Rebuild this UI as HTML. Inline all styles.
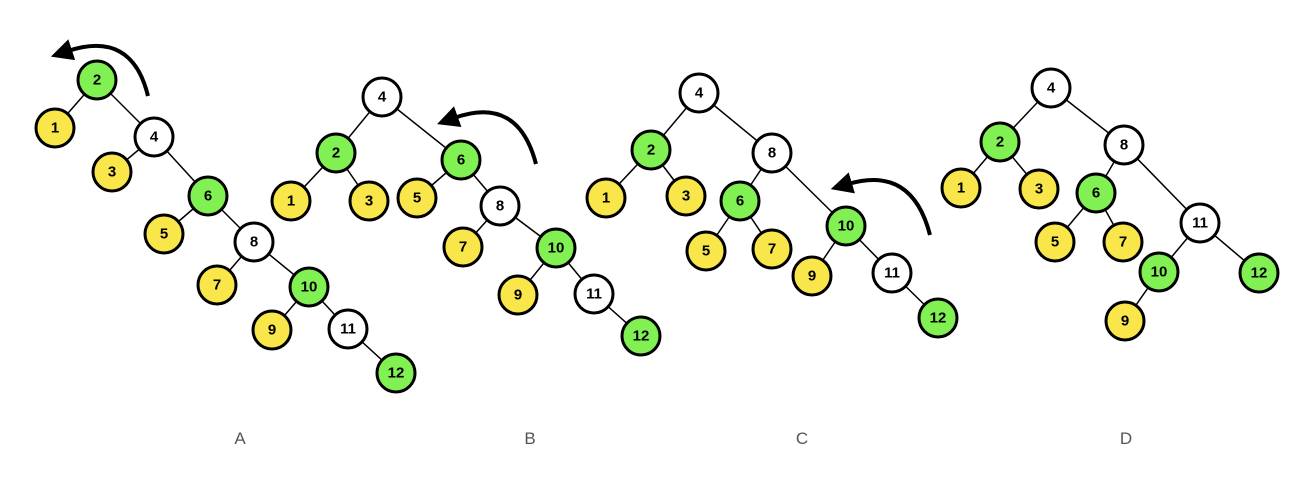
<!DOCTYPE html>
<html><head><meta charset="utf-8"><style>
html,body{margin:0;padding:0;background:#fff;}
svg{display:block;}
.e{stroke:#000;stroke-width:1.5;}
circle{stroke:#000;stroke-width:3;}
.g{fill:#80f052;}.y{fill:#f8e64a;}.w{fill:#fff;}
.t{font-family:"Liberation Sans",sans-serif;font-size:15px;font-weight:bold;text-anchor:middle;dominant-baseline:central;fill:#000;}
.l{font-family:"Liberation Sans",sans-serif;font-size:17px;text-anchor:middle;fill:#555;}
.a{fill:none;stroke:#000;stroke-width:4;}
</style></head><body>
<svg width="1300" height="485" viewBox="0 0 1300 485">
<defs><marker id="m" markerUnits="userSpaceOnUse" markerWidth="26" markerHeight="26" refX="4" refY="11" orient="auto"><path d="M0,0 L22,11 L0,22 Z" fill="#000"/></marker></defs>
<g class="e">
<line x1="97" y1="80" x2="55" y2="128"/><line x1="97" y1="80" x2="154" y2="137"/>
<line x1="154" y1="137" x2="112" y2="172"/><line x1="154" y1="137" x2="208" y2="196"/>
<line x1="208" y1="196" x2="164" y2="234"/><line x1="208" y1="196" x2="254" y2="242"/>
<line x1="254" y1="242" x2="217" y2="285"/><line x1="254" y1="242" x2="309" y2="287"/>
<line x1="309" y1="287" x2="272" y2="330"/><line x1="309" y1="287" x2="348" y2="329"/>
<line x1="348" y1="329" x2="396" y2="373"/>
<line x1="382" y1="97" x2="336" y2="153"/><line x1="382" y1="97" x2="461" y2="160"/>
<line x1="336" y1="153" x2="291" y2="201"/><line x1="336" y1="153" x2="369" y2="201"/>
<line x1="461" y1="160" x2="417" y2="198"/><line x1="461" y1="160" x2="500" y2="206"/>
<line x1="500" y1="206" x2="463" y2="247"/><line x1="500" y1="206" x2="556" y2="248"/>
<line x1="556" y1="248" x2="518" y2="295"/><line x1="556" y1="248" x2="594" y2="294"/>
<line x1="594" y1="294" x2="641" y2="336"/>
<line x1="699" y1="93" x2="651" y2="150"/><line x1="699" y1="93" x2="772" y2="153"/>
<line x1="651" y1="150" x2="606" y2="198"/><line x1="651" y1="150" x2="686" y2="196"/>
<line x1="772" y1="153" x2="740" y2="201"/><line x1="772" y1="153" x2="846" y2="226"/>
<line x1="740" y1="201" x2="706" y2="251"/><line x1="740" y1="201" x2="772" y2="249"/>
<line x1="846" y1="226" x2="812" y2="276"/><line x1="846" y1="226" x2="892" y2="273"/>
<line x1="892" y1="273" x2="938" y2="318"/>
<line x1="1051" y1="88" x2="1000" y2="142"/><line x1="1051" y1="88" x2="1124" y2="145"/>
<line x1="1000" y1="142" x2="961" y2="188"/><line x1="1000" y1="142" x2="1039" y2="189"/>
<line x1="1124" y1="145" x2="1096" y2="193"/><line x1="1124" y1="145" x2="1200" y2="223"/>
<line x1="1096" y1="193" x2="1055" y2="242"/><line x1="1096" y1="193" x2="1123" y2="242"/>
<line x1="1200" y1="223" x2="1159" y2="272"/><line x1="1200" y1="223" x2="1259" y2="273"/>
<line x1="1159" y1="272" x2="1125" y2="321"/>
</g>
<path class="a" d="M148,96 Q132,30 68,51" marker-end="url(#m)"/>
<path class="a" d="M536,164 Q518,95 454,118" marker-end="url(#m)"/>
<path class="a" d="M930,235 Q912,165 848,184" marker-end="url(#m)"/>
<circle class="g" cx="97" cy="80" r="19"/><text class="t" x="97" y="80">2</text>
<circle class="y" cx="55" cy="128" r="19"/><text class="t" x="55" y="128">1</text>
<circle class="w" cx="154" cy="137" r="19"/><text class="t" x="154" y="137">4</text>
<circle class="y" cx="112" cy="172" r="19"/><text class="t" x="112" y="172">3</text>
<circle class="g" cx="208" cy="196" r="19"/><text class="t" x="208" y="196">6</text>
<circle class="y" cx="164" cy="234" r="19"/><text class="t" x="164" y="234">5</text>
<circle class="w" cx="254" cy="242" r="19"/><text class="t" x="254" y="242">8</text>
<circle class="y" cx="217" cy="285" r="19"/><text class="t" x="217" y="285">7</text>
<circle class="g" cx="309" cy="287" r="19"/><text class="t" x="309" y="287">10</text>
<circle class="y" cx="272" cy="330" r="19"/><text class="t" x="272" y="330">9</text>
<circle class="w" cx="348" cy="329" r="19"/><text class="t" x="348" y="329">11</text>
<circle class="g" cx="396" cy="373" r="19"/><text class="t" x="396" y="373">12</text>
<circle class="w" cx="382" cy="97" r="19"/><text class="t" x="382" y="97">4</text>
<circle class="g" cx="336" cy="153" r="19"/><text class="t" x="336" y="153">2</text>
<circle class="y" cx="291" cy="201" r="19"/><text class="t" x="291" y="201">1</text>
<circle class="y" cx="369" cy="201" r="19"/><text class="t" x="369" y="201">3</text>
<circle class="g" cx="461" cy="160" r="19"/><text class="t" x="461" y="160">6</text>
<circle class="y" cx="417" cy="198" r="19"/><text class="t" x="417" y="198">5</text>
<circle class="w" cx="500" cy="206" r="19"/><text class="t" x="500" y="206">8</text>
<circle class="y" cx="463" cy="247" r="19"/><text class="t" x="463" y="247">7</text>
<circle class="g" cx="556" cy="248" r="19"/><text class="t" x="556" y="248">10</text>
<circle class="y" cx="518" cy="295" r="19"/><text class="t" x="518" y="295">9</text>
<circle class="w" cx="594" cy="294" r="19"/><text class="t" x="594" y="294">11</text>
<circle class="g" cx="641" cy="336" r="19"/><text class="t" x="641" y="336">12</text>
<circle class="w" cx="699" cy="93" r="19"/><text class="t" x="699" y="93">4</text>
<circle class="g" cx="651" cy="150" r="19"/><text class="t" x="651" y="150">2</text>
<circle class="y" cx="606" cy="198" r="19"/><text class="t" x="606" y="198">1</text>
<circle class="y" cx="686" cy="196" r="19"/><text class="t" x="686" y="196">3</text>
<circle class="w" cx="772" cy="153" r="19"/><text class="t" x="772" y="153">8</text>
<circle class="g" cx="740" cy="201" r="19"/><text class="t" x="740" y="201">6</text>
<circle class="y" cx="706" cy="251" r="19"/><text class="t" x="706" y="251">5</text>
<circle class="y" cx="772" cy="249" r="19"/><text class="t" x="772" y="249">7</text>
<circle class="g" cx="846" cy="226" r="19"/><text class="t" x="846" y="226">10</text>
<circle class="y" cx="812" cy="276" r="19"/><text class="t" x="812" y="276">9</text>
<circle class="w" cx="892" cy="273" r="19"/><text class="t" x="892" y="273">11</text>
<circle class="g" cx="938" cy="318" r="19"/><text class="t" x="938" y="318">12</text>
<circle class="w" cx="1051" cy="88" r="19"/><text class="t" x="1051" y="88">4</text>
<circle class="g" cx="1000" cy="142" r="19"/><text class="t" x="1000" y="142">2</text>
<circle class="y" cx="961" cy="188" r="19"/><text class="t" x="961" y="188">1</text>
<circle class="y" cx="1039" cy="189" r="19"/><text class="t" x="1039" y="189">3</text>
<circle class="w" cx="1124" cy="145" r="19"/><text class="t" x="1124" y="145">8</text>
<circle class="g" cx="1096" cy="193" r="19"/><text class="t" x="1096" y="193">6</text>
<circle class="y" cx="1055" cy="242" r="19"/><text class="t" x="1055" y="242">5</text>
<circle class="y" cx="1123" cy="242" r="19"/><text class="t" x="1123" y="242">7</text>
<circle class="w" cx="1200" cy="223" r="19"/><text class="t" x="1200" y="223">11</text>
<circle class="g" cx="1159" cy="272" r="19"/><text class="t" x="1159" y="272">10</text>
<circle class="g" cx="1259" cy="273" r="19"/><text class="t" x="1259" y="273">12</text>
<circle class="y" cx="1125" cy="321" r="19"/><text class="t" x="1125" y="321">9</text>
<text class="l" x="240" y="444">A</text>
<text class="l" x="530" y="444">B</text>
<text class="l" x="802" y="444">C</text>
<text class="l" x="1126" y="444">D</text>
</svg>
</body></html>
